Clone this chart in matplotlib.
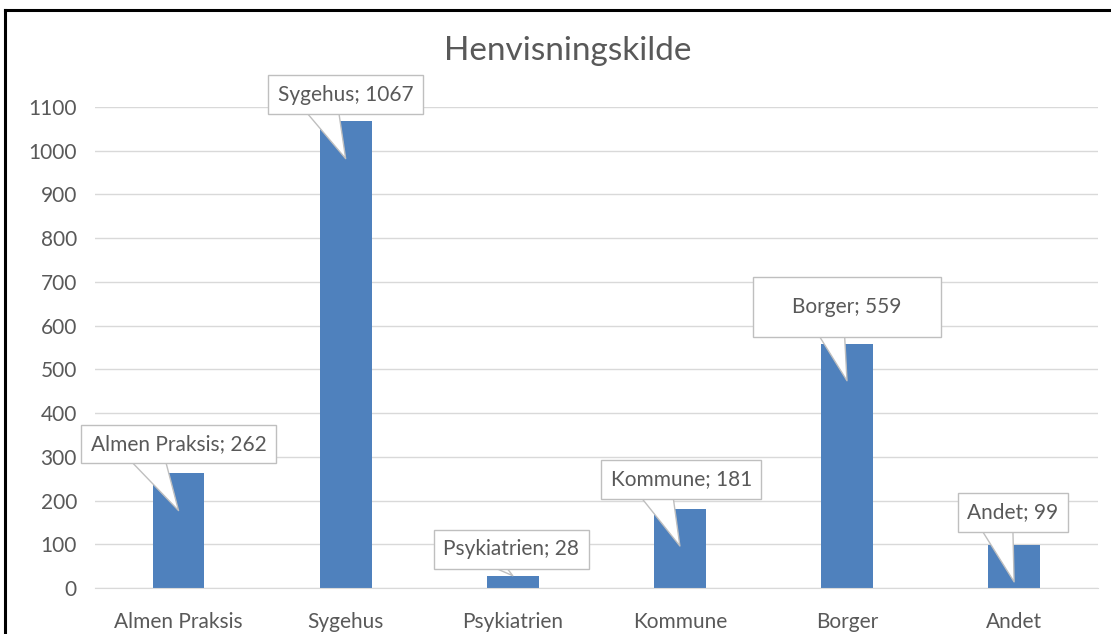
import matplotlib.pyplot as plt
from matplotlib.lines import Line2D

CATEGORIES = ['Almen Praksis', 'Sygehus', 'Psykiatrien', 'Kommune', 'Borger', 'Andet']
VALUES = [262, 1067, 28, 181, 559, 99]
TITLE = 'Henvisningskilde'

BAR_COLOR = '#4f81bd'
TEXT_COLOR = '#595959'
GRID_COLOR = '#d9d9d9'
BOX_EDGE = '#bfbfbf'

plt.rcParams['font.family'] = ['Lato', 'DejaVu Sans']

fig = plt.figure(figsize=(11.11, 6.34), dpi=100, facecolor='white', edgecolor='white')
ax = fig.add_axes([0.0855, 0.0726, 0.9025, 0.7586])

x = list(range(len(CATEGORIES)))
ax.bar(x, VALUES, width=0.31, color=BAR_COLOR, zorder=2)

ax.set_xlim(-0.5, len(CATEGORIES) - 0.5)
ax.set_ylim(0, 1100)
ax.set_yticks(range(0, 1101, 100))
ax.set_xticks(x, CATEGORIES)
ax.tick_params(axis='both', length=0, colors=TEXT_COLOR, labelsize=15)
ax.tick_params(axis='y', pad=13)
ax.tick_params(axis='x', pad=17)
ax.grid(axis='y', color=GRID_COLOR, linewidth=1, zorder=0)
for s in ['top', 'right', 'left']:
    ax.spines[s].set_visible(False)
ax.spines['bottom'].set_color(GRID_COLOR)

fig.text(0.511, 0.92, TITLE, ha='center', va='center', fontsize=24, color=TEXT_COLOR)

# callout labels: (dx, dy) offsets of the box in points, relative to the pointer tip
offsets = [(0, 48), (0, 46), (-1, 19), (1, 48), (0, 53), (-1, 50)]
# (horizontal pad, vertical/horizontal ratio) per box
pads = [(0.45, 1.0), (0.45, 1.0), (0.45, 1.0), (0.45, 1.0), (1.9, 0.5), (0.45, 1.0)]
for i, (v, lab) in enumerate(zip(VALUES, CATEGORIES)):
    tip = v - 85 if v > 90 else v
    dx, dy = offsets[i]
    tw = 1.8 if v > 90 else 0.9
    pad, asp = pads[i]
    ax.annotate(f'{lab}; {v}', xy=(i, tip), xytext=(dx, dy), textcoords='offset points',
                ha='center', va='center', fontsize=15, color=TEXT_COLOR, zorder=5,
                annotation_clip=False,
                bbox=dict(boxstyle=f'square,pad={pad}', mutation_aspect=asp,
                          fc='white', ec=BOX_EDGE, lw=1),
                arrowprops=dict(arrowstyle=f'wedge,tail_width={tw},shrink_factor=0.5',
                                fc='white', ec=BOX_EDGE, lw=1, relpos=(0.3, 0.3),
                                patchA=None, shrinkA=0, shrinkB=0))

# outer frame of the chart area (left and top edges only are in view)
fx = 5 / 1111
fy = 1 - 10 / 634
fig.add_artist(Line2D([fx, fx], [0.0, fy], transform=fig.transFigure, color='black', lw=2.2))
fig.add_artist(Line2D([fx, 1.0], [fy, fy], transform=fig.transFigure, color='black', lw=2.2))

fig.savefig('out.png', dpi=100, facecolor='white', edgecolor='white')
